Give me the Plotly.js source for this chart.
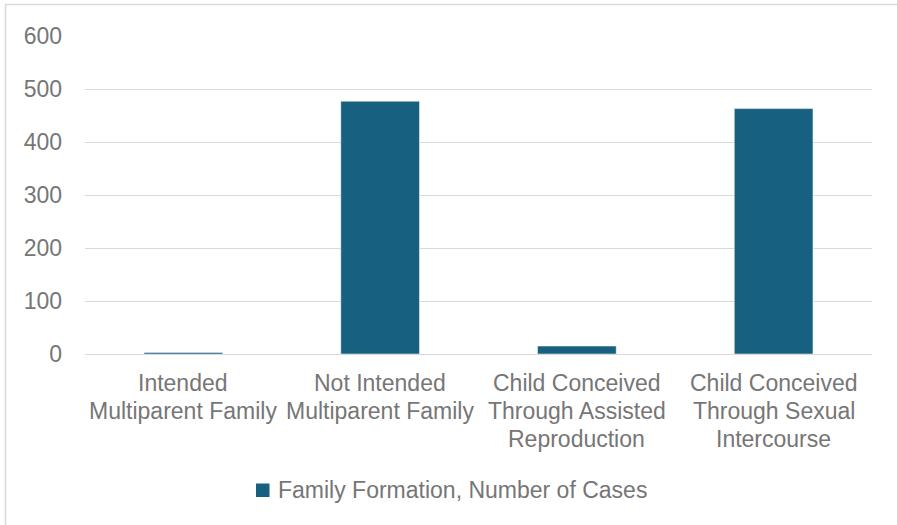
<!DOCTYPE html>
<html>
<head>
<meta charset="utf-8">
<script src="https://cdn.plot.ly/plotly-3.0.1.min.js"></script>
<style>
html,body{margin:0;padding:0;background:#fff;}
#chart{width:897px;height:525px;}
</style>
</head>
<body>
<div id="chart"></div>
<script>
const categories = [
  "Intended Multiparent Family",
  "Not Intended Multiparent Family",
  "Child Conceived Through Assisted Reproduction",
  "Child Conceived Through Sexual Intercourse"
];
const categoryLines = [
  ["Intended", "Multiparent Family"],
  ["Not Intended", "Multiparent Family"],
  ["Child Conceived", "Through Assisted", "Reproduction"],
  ["Child Conceived", "Through Sexual", "Intercourse"]
];
const values = [3, 477, 15, 463];
const seriesName = "Family Formation, Number of Cases";
const yTicks = [0, 100, 200, 300, 400, 500, 600];

const W = 897, H = 525;
const m = {l: 85, r: 25, t: 36, b: 171};
const pw = W - m.l - m.r, ph = H - m.t - m.b;
function px(x){ return (x - m.l) / pw; }
function py(y){ return (H - m.b - y) / ph; }

const TXT = '#767676';
const FS = 23;
const BAR = '#17607F';

const trace = {
  type: 'bar',
  x: categories,
  y: values,
  name: seriesName,
  marker: {color: BAR, line: {color: '#ffffff', width: 0.5}},
  width: 0.4,
  showlegend: false
};

const annotations = [];
categories.forEach((c, i) => {
  categoryLines[i].forEach((line, j) => {
    annotations.push({
      xref: 'x', yref: 'paper', x: c, y: py(383 + j * 28),
      text: line, showarrow: false, xanchor: 'center', yanchor: 'middle',
      font: {size: FS, color: TXT}
    });
  });
});
annotations.push({
  xref: 'paper', yref: 'paper', x: px(276), y: py(490),
  text: seriesName, showarrow: false, xanchor: 'left', yanchor: 'middle',
  font: {size: FS, color: TXT}
});

const layout = {
  width: W, height: H,
  margin: m,
  paper_bgcolor: '#ffffff',
  plot_bgcolor: '#ffffff',
  font: {family: 'Liberation Sans, Arial, sans-serif', size: FS, color: TXT},
  xaxis: {
    type: 'category',
    showgrid: false,
    showline: false,
    zeroline: false,
    ticks: '',
    showticklabels: false,
    automargin: false
  },
  yaxis: {
    range: [0, 600],
    tickvals: yTicks,
    ticktext: yTicks.map(String),
    showgrid: true,
    gridcolor: '#d9d9d9',
    gridwidth: 1,
    zeroline: true,
    zerolinecolor: '#d9d9d9',
    zerolinewidth: 1,
    showline: false,
    ticks: '',
    ticklen: 0,
    ticklabelstandoff: 22,
    tickfont: {size: FS, color: TXT},
    automargin: false
  },
  showlegend: false,
  annotations: annotations,
  shapes: [{
    type: 'rect', xref: 'paper', yref: 'paper',
    x0: px(5.5), x1: px(910), y0: py(540), y1: py(4.5),
    line: {color: '#d9d9d9', width: 1.5},
    fillcolor: 'rgba(0,0,0,0)',
    layer: 'below'
  }, {
    type: 'rect', xref: 'paper', yref: 'paper',
    x0: px(256), x1: px(269.5), y0: py(497), y1: py(483.5),
    line: {width: 0},
    fillcolor: BAR
  }]
};

Plotly.newPlot('chart', [trace], layout, {staticPlot: true, displayModeBar: false});
</script>
</body>
</html>
